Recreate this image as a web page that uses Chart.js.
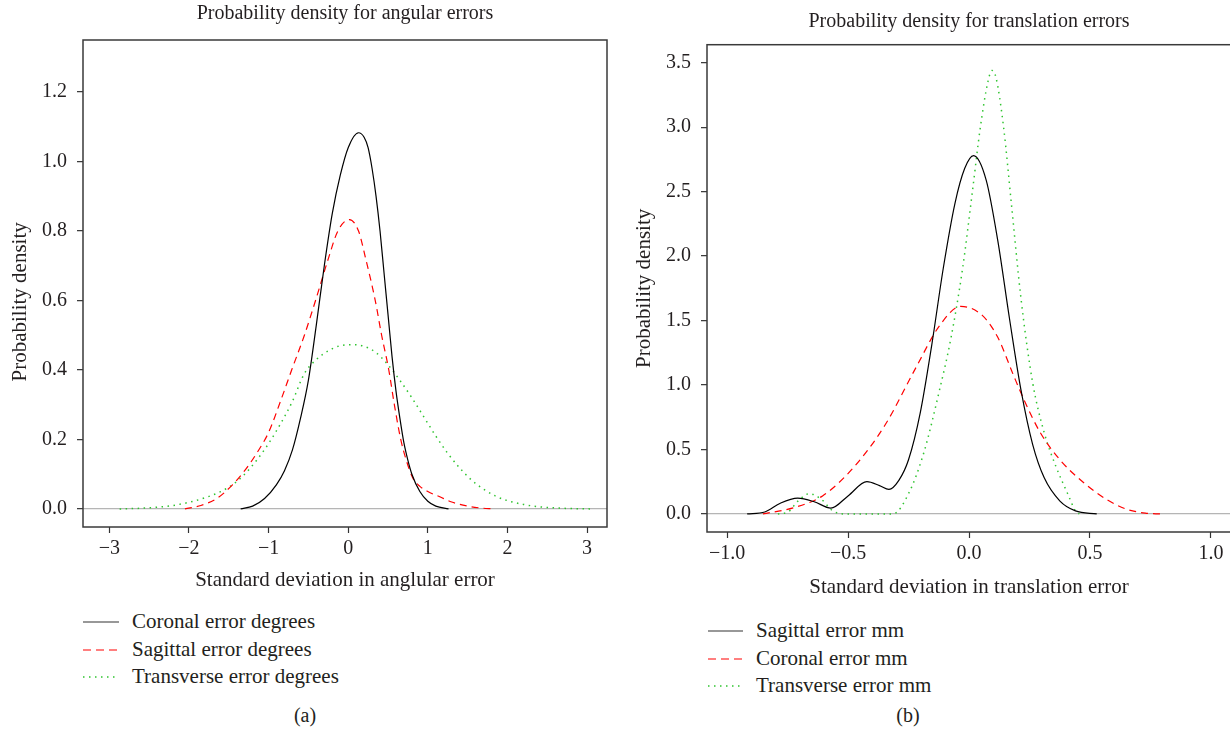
<!DOCTYPE html>
<html>
<head>
<meta charset="utf-8">
<script src="https://cdn.jsdelivr.net/npm/chart.js@4.4.1/dist/chart.umd.min.js"></script>
<style>
body{margin:0;background:#fff;width:1230px;height:731px;overflow:hidden;position:relative;font-family:"Liberation Serif","DejaVu Serif",serif;color:#231f20}
canvas{position:absolute;top:0}
#chartA{left:0}
#chartB{left:620px}
.leg{position:absolute;font-size:21px}
.leg div{position:relative;height:27.5px;line-height:27.5px;white-space:nowrap}
.leg svg{position:absolute;top:13px}
.cap{position:absolute;font-size:20px;transform:translateX(-50%)}
</style>
</head>
<body>
<canvas id="chartA" width="620" height="600"></canvas>
<canvas id="chartB" width="620" height="600"></canvas>

<div class="leg" style="left:83px;top:608px">
  <div><svg width="36" height="2"><line x1="0" y1="1" x2="36" y2="1" stroke="#333" stroke-width="1.2"/></svg><span style="margin-left:49px">Coronal error degrees</span></div>
  <div><svg width="36" height="2"><line x1="0" y1="1" x2="36" y2="1" stroke="#f00" stroke-width="1.2" stroke-dasharray="8,5"/></svg><span style="margin-left:49px">Sagittal error degrees</span></div>
  <div><svg width="36" height="2"><line x1="0" y1="1" x2="36" y2="1" stroke="#2fc42f" stroke-width="1.4" stroke-dasharray="1.5,4.5"/></svg><span style="margin-left:49px">Transverse error degrees</span></div>
</div>
<div class="cap" style="left:305px;top:704px">(a)</div>

<div class="leg" style="left:708px;top:617px">
  <div><svg width="35" height="2"><line x1="0" y1="1" x2="35" y2="1" stroke="#333" stroke-width="1.2"/></svg><span style="margin-left:48px">Sagittal error mm</span></div>
  <div><svg width="35" height="2"><line x1="0" y1="1" x2="35" y2="1" stroke="#f00" stroke-width="1.2" stroke-dasharray="8,5"/></svg><span style="margin-left:48px">Coronal error mm</span></div>
  <div><svg width="35" height="2"><line x1="0" y1="1" x2="35" y2="1" stroke="#2fc42f" stroke-width="1.4" stroke-dasharray="1.5,4.5"/></svg><span style="margin-left:48px">Transverse error mm</span></div>
</div>
<div class="cap" style="left:908px;top:704px">(b)</div>

<script>
// panel (a) - angular errors, [x, density]
const angXTicks = [-3, -2, -1, 0, 1, 2, 3];
const angYTicks = [0, 0.2, 0.4, 0.6, 0.8, 1.0, 1.2];
const coronalDeg = [[-1.35,0],[-1.2,0.008],[-1.05,0.03],[-0.9,0.07],[-0.8,0.11],[-0.7,0.17],[-0.6,0.26],[-0.5,0.37],[-0.4,0.53],[-0.3,0.7],[-0.2,0.85],[-0.1,0.96],[0.0,1.04],[0.13,1.083],[0.2,1.07],[0.25,1.04],[0.3,0.98],[0.35,0.9],[0.4,0.8],[0.45,0.68],[0.5,0.56],[0.55,0.44],[0.6,0.34],[0.65,0.26],[0.7,0.19],[0.75,0.14],[0.8,0.1],[0.9,0.05],[1.0,0.022],[1.1,0.008],[1.26,0]];
const sagittalDeg = [[-2.05,0],[-1.85,0.01],[-1.65,0.03],[-1.45,0.07],[-1.3,0.11],[-1.15,0.16],[-1.0,0.22],[-0.85,0.31],[-0.71,0.4],[-0.55,0.5],[-0.41,0.6],[-0.25,0.72],[-0.13,0.8],[0.015,0.833],[0.13,0.8],[0.22,0.72],[0.34,0.6],[0.42,0.5],[0.51,0.4],[0.58,0.3],[0.66,0.2],[0.73,0.14],[0.81,0.09],[0.9,0.065],[1.0,0.05],[1.15,0.035],[1.3,0.02],[1.5,0.008],[1.65,0.003],[1.83,0]];
const transverseDeg = [[-2.87,0],[-2.6,0.002],[-2.4,0.005],[-2.2,0.01],[-2.0,0.019],[-1.8,0.032],[-1.6,0.05],[-1.45,0.07],[-1.3,0.1],[-1.15,0.14],[-1.0,0.188],[-0.85,0.245],[-0.7,0.31],[-0.55,0.39],[-0.4,0.43],[-0.25,0.455],[-0.1,0.47],[0.065,0.473],[0.2,0.468],[0.35,0.45],[0.5,0.415],[0.65,0.37],[0.8,0.32],[0.95,0.265],[1.1,0.21],[1.25,0.16],[1.4,0.118],[1.55,0.083],[1.7,0.057],[1.85,0.037],[2.0,0.024],[2.2,0.013],[2.4,0.006],[2.6,0.003],[2.8,0.001],[3.08,0]];

// panel (b) - translation errors
const trXTicks = [-1.0, -0.5, 0.0, 0.5, 1.0];
const trYTicks = [0, 0.5, 1.0, 1.5, 2.0, 2.5, 3.0, 3.5];
const sagittalMm = [[-0.917,0],[-0.844,0.015],[-0.78,0.083],[-0.708,0.122],[-0.64,0.095],[-0.571,0.045],[-0.5,0.14],[-0.422,0.25],[-0.37,0.22],[-0.331,0.19],[-0.29,0.26],[-0.25,0.42],[-0.202,0.78],[-0.154,1.31],[-0.106,1.91],[-0.058,2.41],[-0.018,2.68],[0.019,2.78],[0.071,2.59],[0.119,2.12],[0.167,1.52],[0.215,0.96],[0.263,0.54],[0.311,0.28],[0.376,0.1],[0.44,0.024],[0.528,0]];
const coronalMm = [[-0.852,0],[-0.716,0.053],[-0.604,0.142],[-0.475,0.365],[-0.347,0.69],[-0.218,1.14],[-0.122,1.46],[-0.034,1.61],[0.055,1.54],[0.119,1.37],[0.183,1.08],[0.231,0.87],[0.295,0.63],[0.376,0.42],[0.472,0.246],[0.568,0.113],[0.648,0.039],[0.729,0.006],[0.793,0]];
const transverseMm = [[-0.79,0],[-0.748,0.015],[-0.708,0.098],[-0.66,0.157],[-0.61,0.113],[-0.563,0.024],[-0.515,0],[-0.315,0],[-0.25,0.157],[-0.186,0.48],[-0.122,0.96],[-0.074,1.37],[-0.026,1.91],[0.014,2.5],[0.047,3.0],[0.079,3.36],[0.095,3.44],[0.111,3.39],[0.143,3.0],[0.175,2.41],[0.215,1.67],[0.263,1.02],[0.311,0.63],[0.36,0.365],[0.408,0.157],[0.44,0.024],[0.456,0]];

const F = '"Liberation Serif", "DejaVu Serif", serif';
const INK = '#231f20';

// R draws a full box round the plot region
const frame = {
  id: 'frame',
  afterDraw(chart) {
    const a = chart.chartArea, ctx = chart.ctx;
    ctx.save();
    ctx.strokeStyle = '#3a3a3a';
    ctx.lineWidth = 1.5;
    ctx.strokeRect(a.left, a.top, a.right - a.left, a.bottom - a.top);
    ctx.restore();
  }
};

function fmt(v, d) {
  return Number(v).toFixed(d).replace('-', '\u2212');
}

function line(pts, color, dash, w) {
  return {
    data: pts.map(p => ({x: p[0], y: p[1]})),
    borderColor: color,
    borderDash: dash,
    borderWidth: w,
    pointRadius: 0,
    cubicInterpolationMode: 'monotone',
    fill: false
  };
}

function makeChart(id, o) {
  return new Chart(id, {
    type: 'line',
    data: {datasets: o.sets},
    options: {
      responsive: false,
      animation: false,
      layout: {padding: o.pad},
      plugins: {
        legend: {display: false},
        tooltip: {enabled: false},
        title: {display: true, text: o.title, fullSize: false, color: INK,
                font: {family: F, size: 20, weight: 'normal'}, padding: o.titlePad}
      },
      scales: {
        x: {
          type: 'linear', min: o.xMin, max: o.xMax,
          afterBuildTicks: s => { s.ticks = o.xTicks.map(v => ({value: v})); },
          afterFit: s => { s.height = o.xH; },
          grid: {drawOnChartArea: false, tickLength: 6, tickColor: '#333', tickWidth: 1.2},
          border: {display: false},
          ticks: {padding: 4, color: INK, font: {family: F, size: 20}, callback: v => fmt(v, o.xDec)},
          title: {display: true, text: o.xTitle, color: INK, font: {family: F, size: 21}, padding: {top: 0, bottom: o.xTitleBottom}}
        },
        y: {
          min: o.yMin, max: o.yMax,
          afterBuildTicks: s => { s.ticks = o.yTicks.map(v => ({value: v})); },
          afterFit: s => { s.width = o.yW; },
          grid: {
            drawOnChartArea: true,
            color: c => (c.tick && c.tick.value === 0) ? '#b5b5b5' : 'rgba(0,0,0,0)',
            lineWidth: 1.3, tickLength: 6, tickColor: '#333', tickWidth: 1.2
          },
          border: {display: false},
          ticks: {padding: 10, color: INK, font: {family: F, size: 20}, callback: v => fmt(v, 1)},
          title: {display: true, text: o.yTitle, color: INK, font: {family: F, size: 21}, padding: {top: 0, bottom: 0}}
        }
      }
    },
    plugins: [frame]
  });
}

makeChart('chartA', {
  title: 'Probability density for angular errors',
  titlePad: {top: 2, bottom: 14},
  pad: {left: 8, right: 13, top: 0, bottom: 0},
  xMin: -3.33, xMax: 3.25, yMin: -0.052, yMax: 1.35,
  xTicks: angXTicks, yTicks: angYTicks, xDec: 0,
  xH: 73, yW: 75, xTitleBottom: 7.4,
  xTitle: 'Standard deviation in anglular error',
  // label sits a little low in the original, pad it on the far end
  yTitle: 'Probability density' + '\u00a0'.repeat(7),
  sets: [
    line(coronalDeg, '#000', [], 1.2),
    line(sagittalDeg, '#f00', [7, 5], 1.2),
    line(transverseDeg, '#2fc42f', [1.5, 4.5], 1.5)
  ]
});

makeChart('chartB', {
  title: 'Probability density for translation errors',
  titlePad: {top: 10, bottom: 10.7},
  pad: {left: 12, right: 9, top: 0, bottom: 0},
  xMin: -1.083, xMax: 1.083, yMin: -0.14, yMax: 3.64,
  xTicks: trXTicks, yTicks: trYTicks, xDec: 1,
  xH: 68, yW: 75, xTitleBottom: 0.4,
  xTitle: 'Standard deviation in translation error',
  yTitle: 'Probability density',
  sets: [
    line(sagittalMm, '#000', [], 1.2),
    line(coronalMm, '#f00', [7, 5], 1.2),
    line(transverseMm, '#2fc42f', [1.5, 4.5], 1.5)
  ]
});
</script>
</body>
</html>
